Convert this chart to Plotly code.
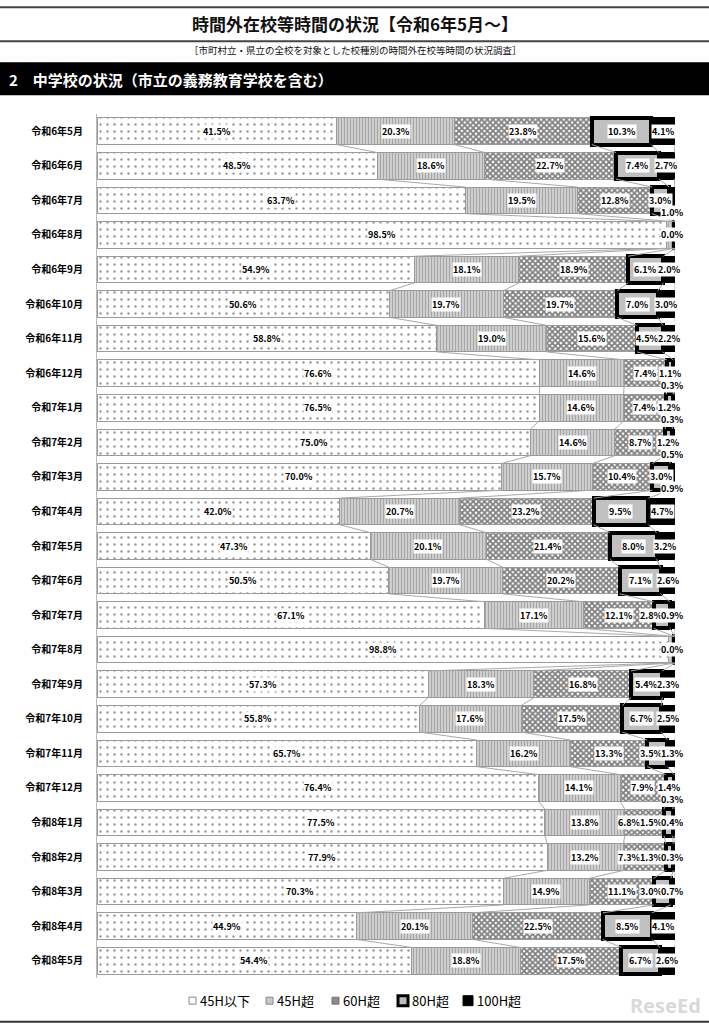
import plotly.graph_objects as go

categories = ["令和6年5月", "令和6年6月", "令和6年7月", "令和6年8月", "令和6年9月", "令和6年10月",
              "令和6年11月", "令和6年12月", "令和7年1月", "令和7年2月", "令和7年3月", "令和7年4月",
              "令和7年5月", "令和7年6月", "令和7年7月", "令和7年8月", "令和7年9月", "令和7年10月",
              "令和7年11月", "令和7年12月", "令和8年1月", "令和8年2月", "令和8年3月", "令和8年4月",
              "令和8年5月"]
s_45_below = [41.5, 48.5, 63.7, 98.5, 54.9, 50.6, 58.8, 76.6, 76.5, 75.0, 70.0, 42.0, 47.3, 50.5,
              67.1, 98.8, 57.3, 55.8, 65.7, 76.4, 77.5, 77.9, 70.3, 44.9, 54.4]
s_45_over = [20.3, 18.6, 19.5, 1.2, 18.1, 19.7, 19.0, 14.6, 14.6, 14.6, 15.7, 20.7, 20.1, 19.7,
             17.1, 1.0, 18.3, 17.6, 16.2, 14.1, 13.8, 13.2, 14.9, 20.1, 18.8]
s_60_over = [23.8, 22.7, 12.8, 0.2, 18.9, 19.7, 15.6, 7.4, 7.4, 8.7, 10.4, 23.2, 21.4, 20.2,
             12.1, 0.1, 16.8, 17.5, 13.3, 7.9, 6.8, 7.3, 11.1, 22.5, 17.5]
s_80_over = [10.3, 7.4, 3.0, 0.1, 6.1, 7.0, 4.5, 1.1, 1.2, 1.2, 3.0, 9.5, 8.0, 7.1,
             2.8, 0.1, 5.4, 6.7, 3.5, 1.4, 1.5, 1.3, 3.0, 8.5, 6.7]
s_100_over = [4.1, 2.7, 1.0, 0.0, 2.0, 3.0, 2.2, 0.3, 0.3, 0.5, 0.9, 4.7, 3.2, 2.6,
              0.9, 0.0, 2.3, 2.5, 1.3, 0.3, 0.4, 0.3, 0.7, 4.1, 2.6]
series_names = ["45H以下", "45H超", "60H超", "80H超", "100H超"]

# label placement rule: rows whose 100H label drops below the bar
drop_100_rows = {"令和6年7月", "令和6年12月", "令和7年1月", "令和7年2月", "令和7年3月", "令和7年12月"}

W, H = 709, 1024
L, R = 97, 675
T, B = 113.7, 978.3
PH = B - T
PW = R - L


def px(x):
    return (x - L) / PW


def py(y):
    return (B - y) / PH


series = [s_45_below, s_45_over, s_60_over, s_80_over, s_100_over]
n = len(categories)
ypos = list(range(n))
bw = 0.77

styles = [
    dict(color="white", line=dict(color="#9a9a9a", width=1),
         pattern=dict(shape=".", size=7, solidity=0.1, fgcolor="#333333", bgcolor="white")),
    dict(color="#d0d0d0", line=dict(color="#9a9a9a", width=1),
         pattern=dict(shape="|", size=3, solidity=0.5, fgcolor="#6f6f6f", bgcolor="#dcdcdc")),
    dict(color="white", line=dict(color="#9a9a9a", width=1),
         pattern=dict(shape="x", size=4, solidity=0.7, fgcolor="#000000", bgcolor="white")),
    dict(color="#c0c0c0", line=dict(color="black", width=4)),
    dict(color="black", line=dict(color="black", width=1)),
]

fig = go.Figure()
for name, vals, st in zip(series_names, series, styles):
    fig.add_trace(go.Bar(y=ypos, x=vals, orientation="h", name=name, width=bw,
                         marker=st, hoverinfo="x+name", showlegend=False))

# series connector lines
cx, cy = [], []
for i in range(n - 1):
    c1 = 0.0
    c2 = 0.0
    for k in range(5):
        c1 += series[k][i]
        c2 += series[k][i + 1]
        cx += [c1, c2, None]
        cy += [i + bw / 2, i + 1 - bw / 2, None]
fig.add_trace(go.Scatter(x=cx, y=cy, mode="lines", line=dict(color="#a8a8a8", width=1),
                         showlegend=False, hoverinfo="skip"))


def text_w(t):
    # rough pixel width of a bold 9px label
    w = 0
    for ch in t:
        w += 7.5 if ch == "%" else (2.6 if ch == "." else 5.2)
    return w + 1


# data labels with simple right-to-left de-overlap
ann = []
lab_font = dict(family="Noto Sans CJK JP", size=9, color="black")
scale = PW / 100.0
for i, cat in enumerate(categories):
    cum = 0.0
    items = []
    for k in range(5):
        v = series[k][i]
        centre = cum + v / 2
        cum += v
        if s_45_below[i] > 95 and k in (1, 2, 3):
            continue
        t = f"{v:.1f}%"
        yshift = 0
        if k == 4:
            if v < 2:
                centre = 99.6
            if cat in drop_100_rows:
                yshift = -12
        items.append([centre * scale, t, yshift])
    limit = None
    for it in reversed(items):
        if it[2] != 0:
            continue
        half = text_w(it[1]) / 2
        if limit is not None and it[0] + half > limit:
            it[0] = limit - half
        limit = it[0] - half
    for xpix, t, ys in items:
        ann.append(dict(x=xpix / scale, y=ypos[i], xref="x", yref="y", text=f"<b>{t}</b>",
                        showarrow=False, font=lab_font, bgcolor="white", borderpad=0, yshift=ys))

# header decorations
title_font = "Noto Sans CJK JP"
ann.append(dict(x=px(355), y=py(23), xref="paper", yref="paper", showarrow=False,
                xanchor="center", yanchor="middle",
                text="<b>時間外在校等時間の状況【令和6年5月～】</b>",
                font=dict(family=title_font, size=17, color="#111")))
ann.append(dict(x=px(355), y=py(50), xref="paper", yref="paper", showarrow=False,
                xanchor="center", yanchor="middle",
                text="［市町村立・県立の全校を対象とした校種別の時間外在校等時間の状況調査］",
                font=dict(family=title_font, size=9.5, color="#111")))
ann.append(dict(x=px(7), y=py(79), xref="paper", yref="paper", showarrow=False,
                xanchor="left", yanchor="middle",
                text="<b>2　中学校の状況（市立の義務教育学校を含む）</b>",
                font=dict(family=title_font, size=15, color="white")))
ann.append(dict(x=px(703), y=py(1006), xref="paper", yref="paper", showarrow=False,
                xanchor="right", yanchor="middle",
                text="<b>ReseEd</b>", font=dict(family="Noto Sans", size=20, color="rgba(120,120,120,0.3)")))

shapes = [
    dict(type="line", xref="paper", yref="paper", x0=px(0), x1=px(709), y0=py(7), y1=py(7),
         line=dict(color="#444", width=2)),
    dict(type="line", xref="paper", yref="paper", x0=px(0), x1=px(709), y0=py(41), y1=py(41),
         line=dict(color="#444", width=2)),
    dict(type="rect", xref="paper", yref="paper", x0=px(0), x1=px(709), y0=py(95), y1=py(62),
         fillcolor="black", line=dict(width=0)),
    dict(type="line", xref="paper", yref="paper", x0=px(0), x1=px(709), y0=py(1022), y1=py(1022),
         line=dict(color="#333", width=2)),
]

# legend (drawn compactly like the original)
leg_sym_x = [189, 266, 332, 398, 463]
leg_sym = [
    dict(size=7, fill="white", line="#888888", lw=1),
    dict(size=7, fill="#c8c8c8", line="#888888", lw=1),
    dict(size=7, fill="#8a8a8a", line="#777777", lw=1),
    dict(size=10, fill="#bbbbbb", line="black", lw=3),
    dict(size=10, fill="black", line="black", lw=1),
]
ly = 1001
for name, sx, sd in zip(series_names, leg_sym_x, leg_sym):
    s = sd["size"]
    shapes.append(dict(type="rect", xref="paper", yref="paper",
                       x0=px(sx), x1=px(sx + s), y0=py(ly + s / 2), y1=py(ly - s / 2),
                       fillcolor=sd["fill"], line=dict(color=sd["line"], width=sd["lw"])))
    ann.append(dict(x=px(sx + s + 2), y=py(ly), xref="paper", yref="paper", showarrow=False,
                    xanchor="left", yanchor="middle", text=name,
                    font=dict(family="Noto Sans CJK JP", size=13, color="black")))

fig.update_layout(
    width=W, height=H, barmode="stack", bargap=0.2,
    margin=dict(l=L, r=W - R, t=T, b=H - B, autoexpand=False),
    plot_bgcolor="white", paper_bgcolor="white",
    xaxis=dict(range=[0, 100], visible=False, fixedrange=True),
    yaxis=dict(range=[n - 0.5, -0.5], tickvals=ypos, ticktext=[f"<b>{c}</b>" for c in categories],
               tickfont=dict(family="Noto Sans CJK JP", size=10, color="black"),
               showline=True, linecolor="#bbbbbb", linewidth=1, ticks="", ticklabelstandoff=11,
               showgrid=False, zeroline=False, fixedrange=True),
    annotations=ann, shapes=shapes, showlegend=False,
)

fig.write_html("out.html")
